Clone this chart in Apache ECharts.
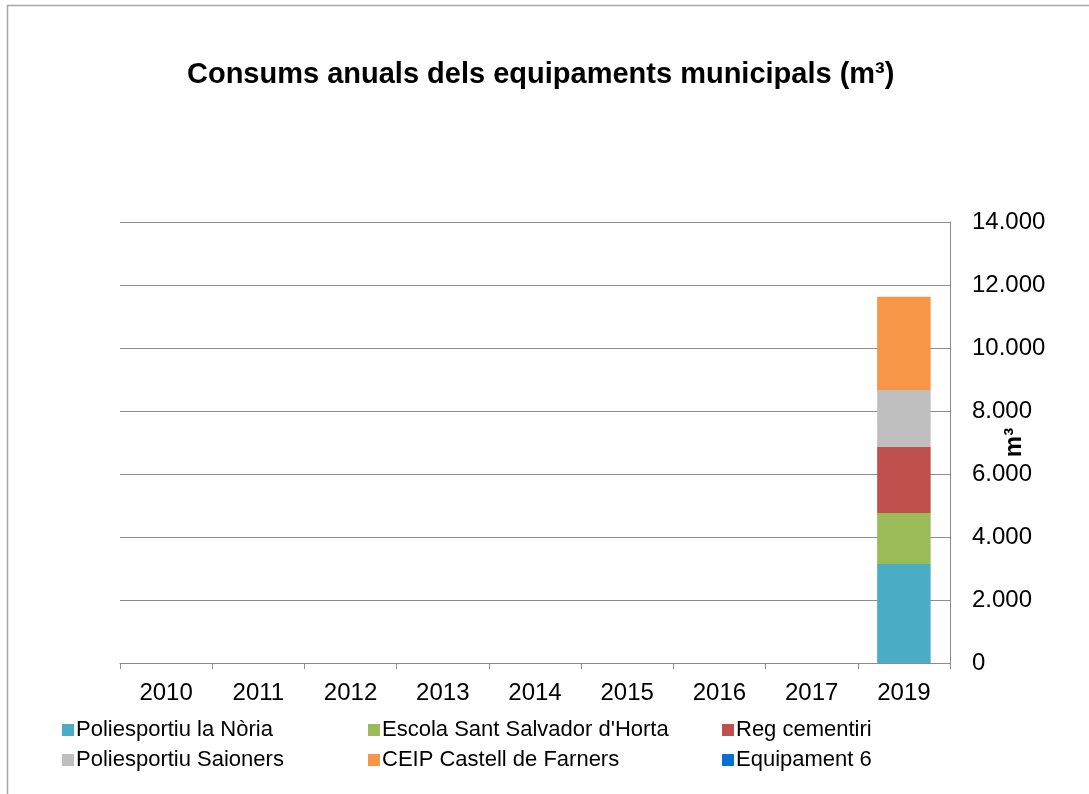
<!DOCTYPE html>
<html>
<head>
<meta charset="utf-8">
<script src="https://cdn.jsdelivr.net/npm/echarts@6/dist/echarts.min.js"></script>
<style>
html,body{margin:0;padding:0;background:#fff;}
#chart{width:1089px;height:794px;}
</style>
</head>
<body>
<div id="chart"></div>
<script>
const categories = ['2010','2011','2012','2013','2014','2015','2016','2017','2019'];
const seriesNames = ['Poliesportiu la Nòria','Escola Sant Salvador d\'Horta','Reg cementiri','Poliesportiu Saioners','CEIP Castell de Farners','Equipament 6'];
const noria      = [null,null,null,null,null,null,null,null,3140];
const escola     = [null,null,null,null,null,null,null,null,1620];
const cementiri  = [null,null,null,null,null,null,null,null,2095];
const saioners   = [null,null,null,null,null,null,null,null,1810];
const ceip       = [null,null,null,null,null,null,null,null,2965];
const equip6     = [null,null,null,null,null,null,null,null,null];
const yTicks = [0,2000,4000,6000,8000,10000,12000,14000];

const colors = ['#4bacc6','#9bbb59','#c0504d','#bfbfbf','#f79646','#0b6fd1'];
const values = [noria, escola, cementiri, saioners, ceip, equip6];
const FONT = "'Liberation Sans', Arial, sans-serif";

const legendPos = [
  {left:62, top:719}, {left:368, top:719}, {left:722, top:719},
  {left:62, top:749}, {left:368, top:749}, {left:722, top:749}
];

const chart = echarts.init(document.getElementById('chart'), null, {renderer:'canvas'});
chart.setOption({
  animation:false,
  backgroundColor:'#fff',
  textStyle:{fontFamily:FONT},
  title:{
    text:'Consums anuals dels equipaments municipals (m³)',
    left:182, top:55,
    textStyle:{fontFamily:FONT, fontWeight:'bold', fontSize:29, color:'#000'}
  },
  graphic:[{
    type:'rect', shape:{x:7.5, y:5.5, width:1100, height:800},
    style:{fill:'none', stroke:'#a6a6a6', lineWidth:1.5}, silent:true
  }],
  legend: seriesNames.map((n,i)=>({
    data:[n], left:legendPos[i].left, top:legendPos[i].top,
    icon:'rect', itemWidth:12, itemHeight:12, itemGap:4,
    textStyle:{fontFamily:FONT, fontSize:22, color:'#000', padding:[0,0,0,-3]},
    padding:0
  })),
  grid:{left:120, right:139, top:222, bottom:131},
  xAxis:{
    type:'category', data:categories,
    axisLine:{show:true, lineStyle:{color:'#8c8c8c', width:1}},
    axisTick:{show:true, interval:0, length:6, lineStyle:{color:'#8c8c8c'}},
    axisLabel:{fontFamily:FONT, fontSize:24, color:'#000', margin:18, interval:0}
  },
  yAxis:{
    type:'value', position:'right', min:0, max:14000, interval:2000,
    name:'m³', nameLocation:'middle', nameRotate:90, nameGap:52,
    nameMoveOverlap:false,
    nameTextStyle:{fontFamily:FONT, fontSize:24, fontWeight:'bold', color:'#000'},
    axisLine:{show:true, lineStyle:{color:'#8c8c8c', width:1}},
    axisTick:{show:false},
    splitLine:{show:true, lineStyle:{color:'#8c8c8c', width:1}},
    axisLabel:{
      fontFamily:FONT, fontSize:24, color:'#000', margin:22,
      formatter:v=> yTicks.includes(v) ? (v===0?'0':v.toLocaleString('de-DE')) : ''
    }
  },
  series: seriesNames.map((n,i)=>({
    name:n, type:'bar', stack:'total', data:values[i],
    barWidth:'58%', itemStyle:{color:colors[i]}
  }))
});
</script>
</body>
</html>
